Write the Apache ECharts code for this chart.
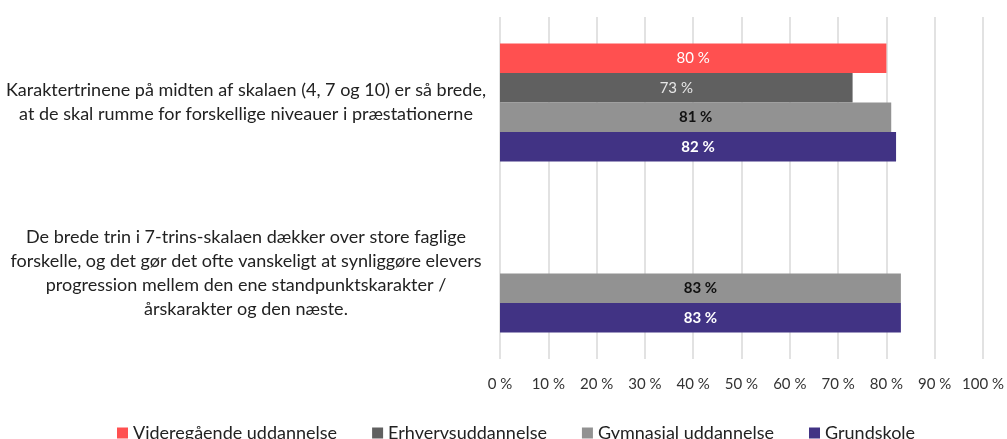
<!DOCTYPE html>
<html>
<head>
<meta charset="utf-8">
<script src="https://cdn.jsdelivr.net/npm/echarts@6/dist/echarts.min.js"></script>
<style>
  html, body { margin: 0; padding: 0; background: #fff; }
  #chart { width: 1007px; height: 439px; }
</style>
</head>
<body>
<div id="chart"></div>
<script>
const categories = [
    "Karaktertrinene på midten af skalaen (4, 7 og 10) er så brede,\nat de skal rumme for forskellige niveauer i præstationerne",
    "De brede trin i 7-trins-skalaen dækker over store faglige\nforskelle, og det gør det ofte vanskeligt at synliggøre elevers\nprogression mellem den ene standpunktskarakter /\nårskarakter og den næste."
];
const seriesNames = ["Videregående uddannelse", "Erhvervsuddannelse", "Gymnasial uddannelse", "Grundskole"];
const videregaaende = [80, null];
const erhverv = [73, null];
const gymnasial = [81, 83];
const grundskole = [82, 83];
const tickLabels = ["0 %", "10 %", "20 %", "30 %", "40 %", "50 %", "60 %", "70 %", "80 %", "90 %", "100 %"];

const colors = ["#ff5050", "#606060", "#929292", "#413384"];
const labelColors = ["#ffffff", "#e6e6e6", "#111111", "#ffffff"];
const labelWeights = ["normal", "normal", "bold", "bold"];
const values = [videregaaende, erhverv, gymnasial, grundskole];

const font = "Lato";

const chart = echarts.init(document.getElementById("chart"));

const option = {
    animation: false,
    textStyle: { fontFamily: font },
    grid: {
        left: 500,
        right: 24,
        top: 17,
        bottom: 80
    },
    legend: {
        bottom: -8,
        left: 112,
        itemWidth: 11,
        itemHeight: 11,
        itemGap: 35,
        icon: "rect",
        textStyle: { fontSize: 18, color: "#222", fontFamily: font },
        data: seriesNames
    },
    xAxis: {
        type: "value",
        min: 0,
        max: 100,
        interval: 10,
        axisLine: { show: false },
        axisTick: { show: false },
        splitLine: { lineStyle: { color: "#d9d9d9", width: 1.5 } },
        axisLabel: {
            fontSize: 15,
            color: "#333",
            margin: 18,
            formatter: (v) => tickLabels[Math.round(v / 10)]
        }
    },
    yAxis: {
        type: "category",
        inverse: true,
        data: categories,
        axisLine: { show: false },
        axisTick: { show: false },
        axisLabel: {
            fontSize: 18,
            lineHeight: 24,
            color: "#222",
            align: "center",
            margin: 254
        }
    },
    series: seriesNames.map((name, i) => ({
        name: name,
        type: "bar",
        data: values[i],
        barGap: "0%",
        barCategoryGap: "31%",
        itemStyle: { color: colors[i] },
        label: {
            show: true,
            position: "inside",
            formatter: "{c} %",
            fontSize: 15,
            color: labelColors[i],
            fontWeight: labelWeights[i]
        }
    }))
};

chart.setOption(option);
</script>
</body>
</html>
